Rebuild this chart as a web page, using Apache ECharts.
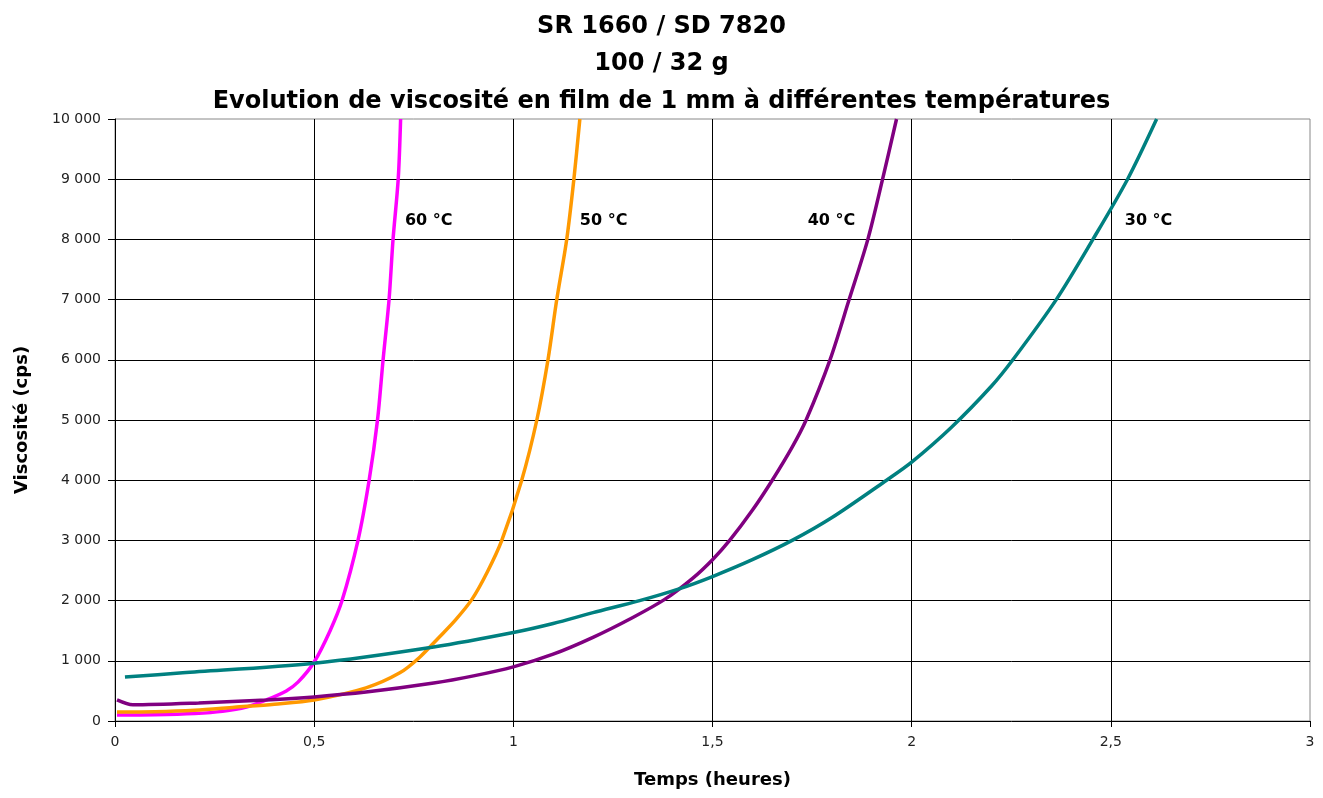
<!DOCTYPE html>
<html>
<head>
<meta charset="utf-8">
<script src="https://cdn.jsdelivr.net/npm/echarts@6/dist/echarts.min.js"></script>
<style>
html,body{margin:0;padding:0;background:#fff;}
#chart{width:1323px;height:798px;}
</style>
</head>
<body>
<div id="chart"></div>
<script>
// ---- Data ----
var titleLines = ['SR 1660 / SD 7820', '100 / 32 g', 'Evolution de viscosité en film de 1 mm à différentes températures'];
var xName = 'Temps (heures)';
var yName = 'Viscosité (cps)';
var xTicks = [0, 0.5, 1, 1.5, 2, 2.5, 3];
var yTicks = [0, 1000, 2000, 3000, 4000, 5000, 6000, 7000, 8000, 9000, 10000];

var seriesNames = ['60 °C', '50 °C', '40 °C', '30 °C'];

var t60 = [0.005, 0.1, 0.2, 0.27, 0.33, 0.38, 0.43, 0.46, 0.5, 0.54, 0.57, 0.61, 0.638, 0.659, 0.673, 0.688, 0.698, 0.711, 0.717];
var v60 = [100, 105, 125, 160, 230, 350, 500, 650, 980, 1500, 2000, 3000, 4000, 5000, 6000, 7000, 8000, 9000, 10000];

var t50 = [0.005, 0.1, 0.2, 0.3, 0.4, 0.5, 0.63, 0.715, 0.765, 0.815, 0.855, 0.896, 0.935, 0.971, 1.021, 1.059, 1.087, 1.109, 1.134, 1.152, 1.167];
var v50 = [150, 155, 180, 230, 280, 350, 550, 800, 1060, 1400, 1680, 2020, 2480, 3000, 4000, 5000, 6000, 7000, 8000, 9000, 10000];

var t40 = [0.005, 0.045, 0.21, 0.38, 0.5, 0.63, 0.8, 0.9, 1.0, 1.1, 1.2, 1.3, 1.38, 1.45, 1.5, 1.543, 1.6, 1.65, 1.7, 1.735, 1.795, 1.843, 1.89, 1.927, 1.962];
var v40 = [350, 270, 300, 350, 400, 480, 630, 750, 900, 1110, 1390, 1720, 2020, 2370, 2680, 3000, 3500, 4000, 4550, 5000, 6000, 7000, 8000, 9000, 10000];

var t30 = [0.025, 0.17, 0.5, 0.8, 1.0, 1.1, 1.2, 1.317, 1.418, 1.5, 1.6, 1.7, 1.8, 1.937, 2.0, 2.1, 2.2, 2.254, 2.363, 2.455, 2.542, 2.615];
var v30 = [730, 800, 960, 1230, 1470, 1620, 1800, 2000, 2200, 2400, 2680, 3000, 3380, 4000, 4300, 4880, 5560, 6000, 7000, 8000, 9000, 10000];

// label anchor positions (left edge of each curve label, in data units)
var labelT = [0.728, 1.167, 1.739, 2.535];
var labelV = [8300, 8300, 8300, 8300];

var colors = ['#FF00FF', '#FF9900', '#800080', '#008080'];

function pairs(t, v) { return t.map(function (x, i) { return [x, v[i]]; }); }
function fmtThousands(v) { return String(v).replace(/\B(?=(\d{3})+(?!\d))/g, ' '); }

var FONT = 'DejaVu Sans, Liberation Sans, Arial, sans-serif';
var allT = [t60, t50, t40, t30];
var allV = [v60, v50, v40, v30];

var series = allT.map(function (t, i) {
  return {
    name: seriesNames[i],
    type: 'line',
    data: pairs(t, allV[i]),
    smooth: 0.3,
    showSymbol: false,
    symbol: 'none',
    lineStyle: { color: colors[i], width: 3.5 },
    itemStyle: { color: colors[i] },
    z: 3
  };
});

series.push({
  name: 'labels',
  type: 'scatter',
  symbolSize: 0,
  data: labelT.map(function (t, i) { return [t, labelV[i], seriesNames[i]]; }),
  label: {
    show: true,
    position: 'right',
    distance: 0,
    formatter: function (p) { return p.value[2]; },
    fontFamily: FONT,
    fontWeight: 'bold',
    fontSize: 16,
    color: '#000',
    opacity: 1,
    textBorderWidth: 0
  },
  silent: true,
  z: 4
});

var chart = echarts.init(document.getElementById('chart'), null, { renderer: 'canvas' });
chart.setOption({
  animation: false,
  backgroundColor: '#fff',
  title: {
    text: titleLines.join('\n'),
    left: 'center',
    top: 3,
    textStyle: {
      fontFamily: FONT,
      fontWeight: 'bold',
      fontSize: 24,
      lineHeight: 37.5,
      color: '#000'
    }
  },
  grid: {
    left: 115, right: 13, top: 119, bottom: 77,
    show: true, borderColor: '#888', borderWidth: 1,
    backgroundColor: 'transparent',
    outerBoundsMode: 'none'
  },
  xAxis: {
    type: 'value',
    min: xTicks[0], max: xTicks[xTicks.length - 1], interval: 0.5,
    name: xName,
    nameLocation: 'middle',
    nameGap: 50,
    nameTextStyle: { fontFamily: FONT, fontWeight: 'bold', fontSize: 18, color: '#000' },
    axisLine: { show: true, lineStyle: { color: '#000', width: 1 } },
    axisTick: { show: true, length: 6, lineStyle: { color: '#000' } },
    axisLabel: {
      margin: 14, fontFamily: FONT, fontSize: 14, color: '#222',
      formatter: function (v) { return String(v).replace('.', ','); }
    },
    splitLine: { show: true, showMinLine: false, showMaxLine: false, lineStyle: { color: '#000', width: 1 } }
  },
  yAxis: {
    type: 'value',
    min: yTicks[0], max: yTicks[yTicks.length - 1], interval: 1000,
    name: yName,
    nameLocation: 'middle',
    nameGap: 84,
    nameRotate: 90,
    nameTextStyle: { fontFamily: FONT, fontWeight: 'bold', fontSize: 18, color: '#000' },
    axisLine: { show: true, lineStyle: { color: '#000', width: 1 } },
    axisTick: { show: true, length: 7, lineStyle: { color: '#000' } },
    axisLabel: {
      margin: 14, fontFamily: FONT, fontSize: 14, color: '#222',
      formatter: function (v) { return fmtThousands(v); }
    },
    splitLine: { show: true, showMinLine: false, showMaxLine: false, lineStyle: { color: '#000', width: 1 } }
  },
  series: series
});
</script>
</body>
</html>
